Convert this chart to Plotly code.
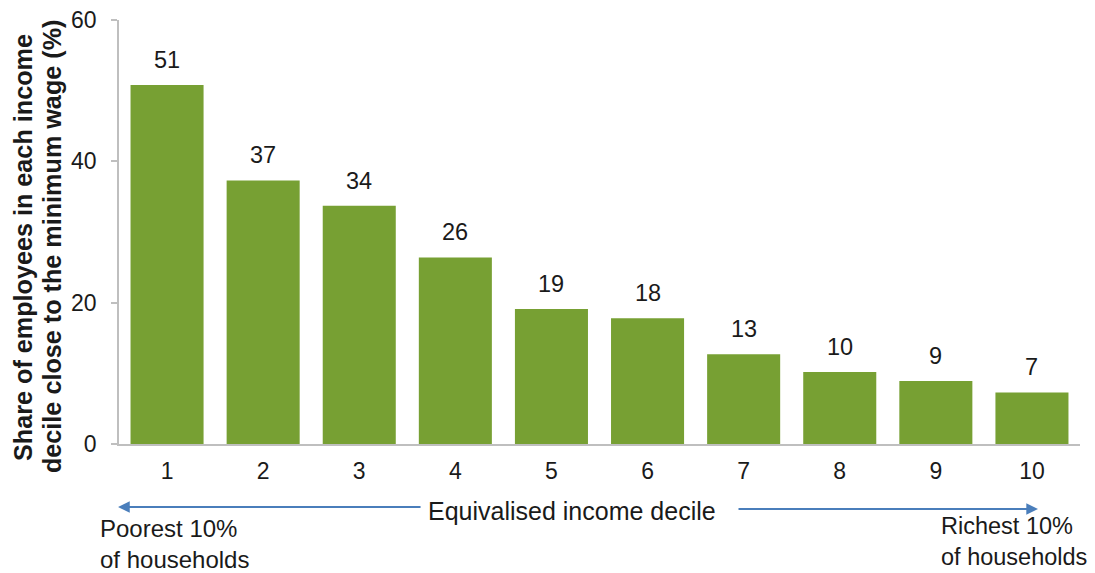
import plotly.graph_objects as go

deciles = ["1", "2", "3", "4", "5", "6", "7", "8", "9", "10"]
shares = [50.8, 37.3, 33.7, 26.4, 19.1, 17.8, 12.7, 10.2, 8.9, 7.3]
labels = [str(round(v)) for v in shares]
y_ticks = [0, 20, 40, 60]
y_title_lines = ["Share of employees in each income", "decile close to the minimum wage (%)"]

GREEN = "#77A033"
BLUE = "#4A7EBB"
TXT = "#1a1a1a"
FONT = "Liberation Sans, Arial, sans-serif"

fig = go.Figure()
fig.add_trace(go.Bar(
    x=deciles, y=shares, marker_color=GREEN, marker_line_width=0,
    width=0.76, hoverinfo="skip",
))

annotations = []
for i, (v, t) in enumerate(zip(shares, labels)):
    annotations.append(dict(x=i, y=v, text=t, showarrow=False, xref="x", yref="y",
                            yanchor="middle", yshift=25,
                            font=dict(size=23.5, color=TXT, family=FONT)))

for xp, line in zip([-0.0999, -0.0697], y_title_lines):
    annotations.append(dict(xref="paper", yref="paper", x=xp, y=0.4646, text="<b>" + line + "</b>",
                            textangle=-90, showarrow=False, xanchor="center", yanchor="middle",
                            font=dict(size=25.2, color=TXT, family=FONT)))

annotations += [
    dict(xref="paper", yref="paper", x=0.4714, y=-0.158, text="Equivalised income decile",
         showarrow=False, xanchor="center", yanchor="middle",
         font=dict(size=25, color=TXT, family=FONT)),
    dict(xref="paper", yref="paper", x=-0.001, y=-0.1486, ax=304, ay=0, text="",
         showarrow=True, arrowhead=2, arrowsize=1.3, arrowwidth=1.8, arrowcolor=BLUE),
    dict(xref="paper", yref="paper", x=0.9563, y=-0.1533, ax=-301, ay=0, text="",
         showarrow=True, arrowhead=2, arrowsize=1.3, arrowwidth=1.8, arrowcolor=BLUE),
    dict(xref="paper", yref="paper", x=-0.0219, y=-0.2347, text="Poorest 10%<br>of households",
         showarrow=False, xanchor="left", yanchor="middle", align="left",
         font=dict(size=24, color=TXT, family=FONT)),
    dict(xref="paper", yref="paper", x=0.853, y=-0.3025, text="Richest 10%<br>of households",
         showarrow=False, xanchor="left", yanchor="bottom", align="left",
         font=dict(size=23.5, color=TXT, family=FONT)),
]

fig.update_layout(
    width=1095, height=573,
    margin=dict(l=119, r=15, t=20, b=129, autoexpand=False),
    paper_bgcolor="white", plot_bgcolor="white",
    showlegend=False, bargap=0.24,
    font=dict(family=FONT, size=23, color=TXT),
    annotations=annotations,
    xaxis=dict(range=[-0.5, 9.5], type="category", showgrid=False, showline=True,
               linecolor="#BFBFBF", linewidth=1.5, ticks="", ticklabelstandoff=6,
               tickfont=dict(size=23), automargin=False),
    yaxis=dict(range=[0, 60], tickvals=y_ticks, showgrid=False, showline=True,
               linecolor="#BFBFBF", linewidth=1.5, ticks="outside", ticklen=6,
               tickcolor="#BFBFBF", tickwidth=1.5, zeroline=False, ticklabelstandoff=10,
               tickfont=dict(size=23), automargin=False),
)

fig.write_html("out.html", config={"displayModeBar": False},
               post_script="document.body.style.margin='0';document.body.style.overflow='hidden';")
